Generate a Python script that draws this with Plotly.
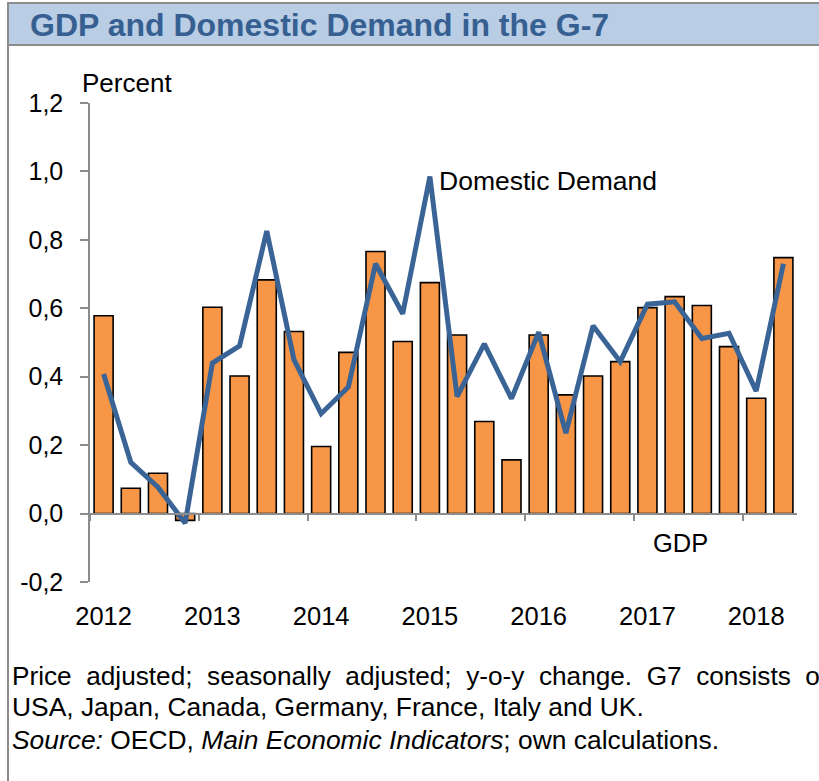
import plotly.graph_objects as go

quarters = [f"{y}Q{q}" for y in range(2012, 2019) for q in range(1, 5)][:26]
gdp = [0.578, 0.074, 0.118, -0.02, 0.603, 0.402, 0.683, 0.532, 0.196, 0.471,
       0.766, 0.503, 0.675, 0.522, 0.269, 0.157, 0.522, 0.347, 0.402, 0.444,
       0.602, 0.634, 0.608, 0.488, 0.337, 0.748]
domestic = [0.408, 0.150, 0.077, -0.028, 0.440, 0.490, 0.826, 0.450, 0.292, 0.370,
            0.730, 0.584, 0.985, 0.342, 0.496, 0.336, 0.530, 0.235, 0.549, 0.444,
            0.612, 0.619, 0.512, 0.527, 0.358, 0.730]
year_labels = ["2012", "2013", "2014", "2015", "2016", "2017", "2018"]
y_ticks = [-0.2, 0.0, 0.2, 0.4, 0.6, 0.8, 1.0, 1.2]
y_ticktext = [f"{v:.1f}".replace(".", ",") for v in y_ticks]

W, H = 819, 781
L, R, T, B = 90, 22, 103, 199
PW, PH = W - L - R, H - T - B


def px(x):
    return (x - L) / PW


def py(y):
    return (H - B - y) / PH


idx = list(range(len(quarters)))
year_pos = [i for i in idx if quarters[i].endswith("Q1")]
year_bound = [i - 0.5 for i in year_pos]

fig = go.Figure()
fig.add_trace(go.Bar(x=idx, y=gdp, name="GDP", marker=dict(color="#F79646", line=dict(color="#000000", width=1.6)),
                     xaxis="x", yaxis="y"))
fig.add_trace(go.Scatter(x=idx, y=domestic, name="Domestic Demand", mode="lines",
                         line=dict(color="#3A6496", width=5, shape="linear"), xaxis="x2", yaxis="y"))

font = "Liberation Sans, Arial, sans-serif"
axis_gray = "#8C8C8C"
fig.update_layout(
    width=W, height=H, margin=dict(l=L, r=R, t=T, b=B),
    paper_bgcolor="white", plot_bgcolor="white", showlegend=False,
    bargap=0.3,
    font=dict(family=font, size=25, color="#000000"),
    xaxis=dict(range=[-0.5, len(idx) - 0.5], tickvals=year_pos, ticktext=year_labels,
               showgrid=False, zeroline=False, showline=False, ticks="",
               tickfont=dict(size=25.5), ticklabelstandoff=16),
    xaxis2=dict(range=[-0.5, len(idx) - 0.5], overlaying="x", anchor="free",
                position=(0 - y_ticks[0]) / (y_ticks[-1] - y_ticks[0]),
                tickvals=year_bound, showticklabels=False, ticks="outside", ticklen=7,
                tickwidth=1.5, tickcolor=axis_gray, showline=True, linecolor=axis_gray,
                linewidth=1.5, showgrid=False, zeroline=False),
    yaxis=dict(range=[y_ticks[0], y_ticks[-1]], tickvals=y_ticks, ticktext=y_ticktext,
               showgrid=False, zeroline=False, showline=True, linecolor=axis_gray, linewidth=1.5,
               ticks="outside", ticklen=8, tickwidth=1.5, tickcolor=axis_gray,
               tickfont=dict(size=25), ticklabelstandoff=12),
)

shapes = [
    dict(type="rect", xref="paper", yref="paper", x0=px(8), x1=px(840), y0=py(45), y1=py(3),
         fillcolor="#B9CDE5", line=dict(color="#8C8C8C", width=2), layer="below"),
    dict(type="line", xref="paper", yref="paper", x0=px(8), x1=px(8), y0=py(45), y1=py(790),
         line=dict(color="#8C8C8C", width=2)),
]
fig.update_layout(shapes=shapes)

gap = " \u00a0"
line1 = gap.join("Price adjusted; seasonally adjusted; y-o-y change. G7 consists of".split(" "))

ann = [
    dict(text="<b>GDP and Domestic Demand in the G-7</b>", x=px(28), y=py(25), xanchor="left",
         yanchor="middle", font=dict(size=32, color="#376092")),
    dict(text="Percent", x=px(80), y=py(83), xanchor="left", yanchor="middle", font=dict(size=26)),
    dict(text="Domestic Demand", x=px(437), y=py(181), xanchor="left", yanchor="middle", font=dict(size=26.5)),
    dict(text="GDP", x=px(651), y=py(543), xanchor="left", yanchor="middle", font=dict(size=25.5)),
    dict(text=line1, x=px(10), y=py(676),
         xanchor="left", yanchor="middle", font=dict(size=26.2)),
    dict(text="USA, Japan, Canada, Germany, France, Italy and UK.", x=px(10), y=py(707),
         xanchor="left", yanchor="middle", font=dict(size=26.4)),
    dict(text="<i>Source:</i> OECD, <i>Main Economic Indicators</i>; own calculations.", x=px(10), y=py(740),
         xanchor="left", yanchor="middle", font=dict(size=26.4)),
]
for a in ann:
    a.update(xref="paper", yref="paper", showarrow=False)
fig.update_layout(annotations=ann)

fig.write_html("out.html", config={"displayModeBar": False},
               post_script="document.body.style.margin='0';")
